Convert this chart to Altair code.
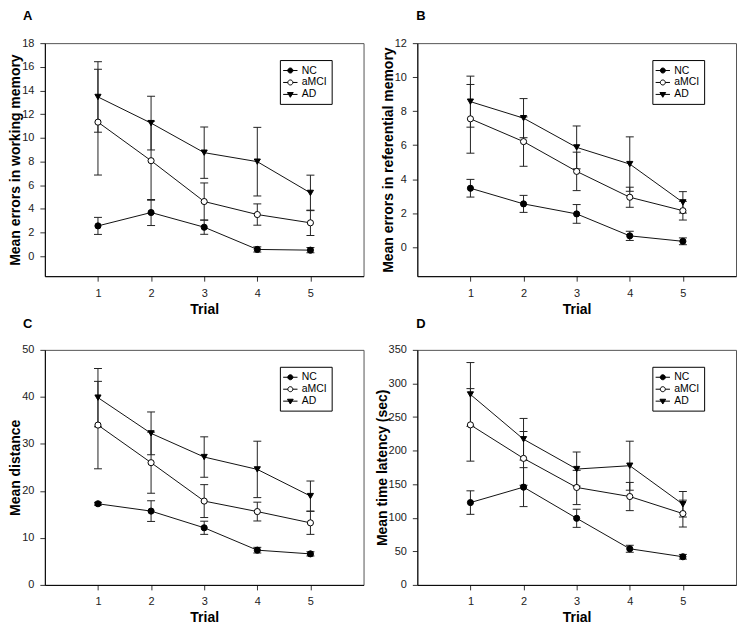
import altair as alt
import pandas as pd

FONT = "Liberation Sans"

trials = [1, 2, 3, 4, 5]
groups = ["NC", "aMCI", "AD"]

# Panel A: Mean errors in working memory
a_nc_mean = [2.55, 3.68, 2.44, 0.56, 0.50]
a_nc_err = [0.72, 1.10, 0.60, 0.22, 0.22]
a_mci_mean = [11.32, 8.06, 4.61, 3.51, 2.81]
a_mci_err = [4.47, 3.34, 1.57, 0.90, 1.07]
a_ad_mean = [13.45, 11.24, 8.74, 7.98, 5.34]
a_ad_err = [2.98, 2.27, 2.17, 2.90, 1.50]

# Panel B: Mean errors in referential memory
b_nc_mean = [3.47, 2.55, 1.96, 0.67, 0.35]
b_nc_err = [0.52, 0.50, 0.55, 0.27, 0.20]
b_mci_mean = [7.55, 6.21, 4.46, 2.94, 2.15]
b_mci_err = [2.02, 1.45, 1.13, 0.59, 0.55]
b_ad_mean = [8.56, 7.59, 5.87, 4.89, 2.64]
b_ad_err = [1.50, 1.15, 1.26, 1.60, 0.63]

# Panel C: Mean distance
c_nc_mean = [17.26, 15.70, 12.15, 7.39, 6.60]
c_nc_err = [0.30, 2.20, 1.40, 0.60, 0.45]
c_mci_mean = [34.00, 26.00, 17.83, 15.60, 13.20]
c_mci_err = [9.30, 6.50, 3.50, 2.00, 2.45]
c_ad_mean = [39.84, 32.24, 27.20, 24.57, 18.90]
c_ad_err = [6.20, 4.55, 4.30, 6.00, 3.20]

# Panel D: Mean time latency (sec)
d_nc_mean = [122.6, 145.6, 99.2, 53.8, 41.9]
d_nc_err = [17.5, 29.0, 13.5, 5.2, 3.5]
d_mci_mean = [238.3, 188.4, 145.1, 131.6, 106.2]
d_mci_err = [54.0, 40.0, 25.5, 21.0, 20.0]
d_ad_mean = [283.6, 216.9, 172.5, 177.5, 120.1]
d_ad_err = [47.5, 31.0, 25.4, 36.5, 19.0]

x_ticks = [1, 2, 3, 4, 5]
a_ticks = [0, 2, 4, 6, 8, 10, 12, 14, 16, 18]
b_ticks = [0, 2, 4, 6, 8, 10, 12]
c_ticks = [0, 10, 20, 30, 40, 50]
d_ticks = [0, 50, 100, 150, 200, 250, 300, 350]

LEG_PATHS = [
    "M-1.2,0H1.2M0.42,0A0.42,0.42,0,1,1,-0.42,0A0.42,0.42,0,1,1,0.42,0Z",
    "M-1.2,0H-0.42M0.42,0H1.2M0.42,0A0.42,0.42,0,1,1,-0.42,0A0.42,0.42,0,1,1,0.42,0Z",
    "M-1.2,0H1.2M-0.48,-0.32L0.48,-0.32L0,0.48Z",
]


def make_df(means, errs):
    rows = []
    for g, ms, es in zip(groups, means, errs):
        for t, m, e in zip(trials, ms, es):
            rows.append({"trial": t, "group": g, "mean": m, "err": e})
    return pd.DataFrame(rows)


def panel(df, letter, ytitle, ydomain, yticks, width, height, title_dx, title_offset):
    xs = alt.X("trial:Q", scale=alt.Scale(domain=[0, 6], nice=False, zero=False),
               axis=alt.Axis(values=x_ticks, title="Trial", format="d"))

    def ys(field):
        return alt.Y(field, type="quantitative",
                     scale=alt.Scale(domain=ydomain, nice=False, zero=False),
                     axis=alt.Axis(values=yticks, title=ytitle, format="d"))

    base = alt.Chart(df).encode(x=xs)
    eb = base.transform_calculate(lo="datum.mean - datum.err", hi="datum.mean + datum.err")
    rules = eb.mark_rule(color="#222", strokeWidth=1).encode(y=ys("lo"), y2="hi:Q")
    cap_lo = eb.mark_tick(orient="horizontal", size=8, thickness=1, color="#222", opacity=1).encode(y=ys("lo"))
    cap_hi = eb.mark_tick(orient="horizontal", size=8, thickness=1, color="#222", opacity=1).encode(y=ys("hi"))
    lines = base.mark_line(color="#111", strokeWidth=1).encode(
        y=ys("mean"), detail="group:N", order="trial:Q")
    pts = base.mark_point(filled=True, stroke="black", strokeWidth=1, opacity=1, size=38).encode(
        y=ys("mean"),
        shape=alt.Shape("group:N", scale=alt.Scale(domain=groups, range=["circle", "circle", "triangle-down"]), legend=None),
        fill=alt.Fill("group:N", scale=alt.Scale(domain=groups, range=["black", "white", "black"]), legend=None),
    )
    leg_def = dict(orient="none", legendX=width - 30 - 54, legendY=17, title=None)
    leg = alt.Chart(df).transform_filter("false").mark_point(
        filled=True, strokeWidth=1, opacity=1).encode(
        shape=alt.Shape("group:N", scale=alt.Scale(domain=groups, range=LEG_PATHS), legend=alt.Legend(**leg_def)),
        fill=alt.Fill("group:N", scale=alt.Scale(domain=groups, range=["black", "white", "black"]), legend=alt.Legend(**leg_def)),
        stroke=alt.Stroke("group:N", scale=alt.Scale(domain=groups, range=["black", "black", "black"]), legend=alt.Legend(**leg_def)),
    )
    return alt.layer(rules, cap_lo, cap_hi, lines, pts, leg).resolve_scale(
        shape="independent", fill="independent", stroke="independent"
    ).properties(
        width=width, height=height,
        title=alt.TitleParams(letter, anchor="start", frame="group", dx=title_dx, offset=title_offset,
                              fontSize=13, fontWeight="bold", font=FONT, color="black"),
    )


dfA = make_df([a_nc_mean, a_mci_mean, a_ad_mean], [a_nc_err, a_mci_err, a_ad_err])
dfB = make_df([b_nc_mean, b_mci_mean, b_ad_mean], [b_nc_err, b_mci_err, b_ad_err])
dfC = make_df([c_nc_mean, c_mci_mean, c_ad_mean], [c_nc_err, c_mci_err, c_ad_err])
dfD = make_df([d_nc_mean, d_mci_mean, d_ad_mean], [d_nc_err, d_mci_err, d_ad_err])

pA = panel(dfA, "A", "Mean errors in working memory", [-1.7, 18], a_ticks, 320, 234, -22, 14)
pB = panel(dfB, "B", "Mean errors in referential memory", [-1.7, 12], b_ticks, 320, 234, -1, 14)
pC = panel(dfC, "C", "Mean distance", [0, 50], c_ticks, 320, 236, -22, 13)
pD = panel(dfD, "D", "Mean time latency (sec)", [0, 350], d_ticks, 320, 236, -1, 13)

chart = alt.concat(pA, pB, pC, pD, columns=2, spacing={"row": 0, "column": 10}).properties(
    padding=0, background="white"
).configure_view(
    stroke="#555", strokeWidth=1
).configure_axis(
    labelFont=FONT, labelFontSize=11, labelColor="#222",
    titleFont=FONT, titleFontSize=14, titleFontWeight="bold", titleColor="black",
    domainColor="black", domainWidth=1, tickColor="#333", tickSize=5, labelPadding=6, grid=False,
).configure_axisY(
    titlePadding=-1
).configure_axisX(
    titlePadding=4
).configure_legend(
    strokeColor="black", fillColor="white", padding=4, rowPadding=0,
    symbolSize=144, symbolStrokeWidth=1, symbolStrokeColor="black",
    labelFont=FONT, labelFontSize=10.5, labelColor="black", labelOffset=5,
)

chart.save("out.html", embed_options={"renderer": "svg", "actions": False})
